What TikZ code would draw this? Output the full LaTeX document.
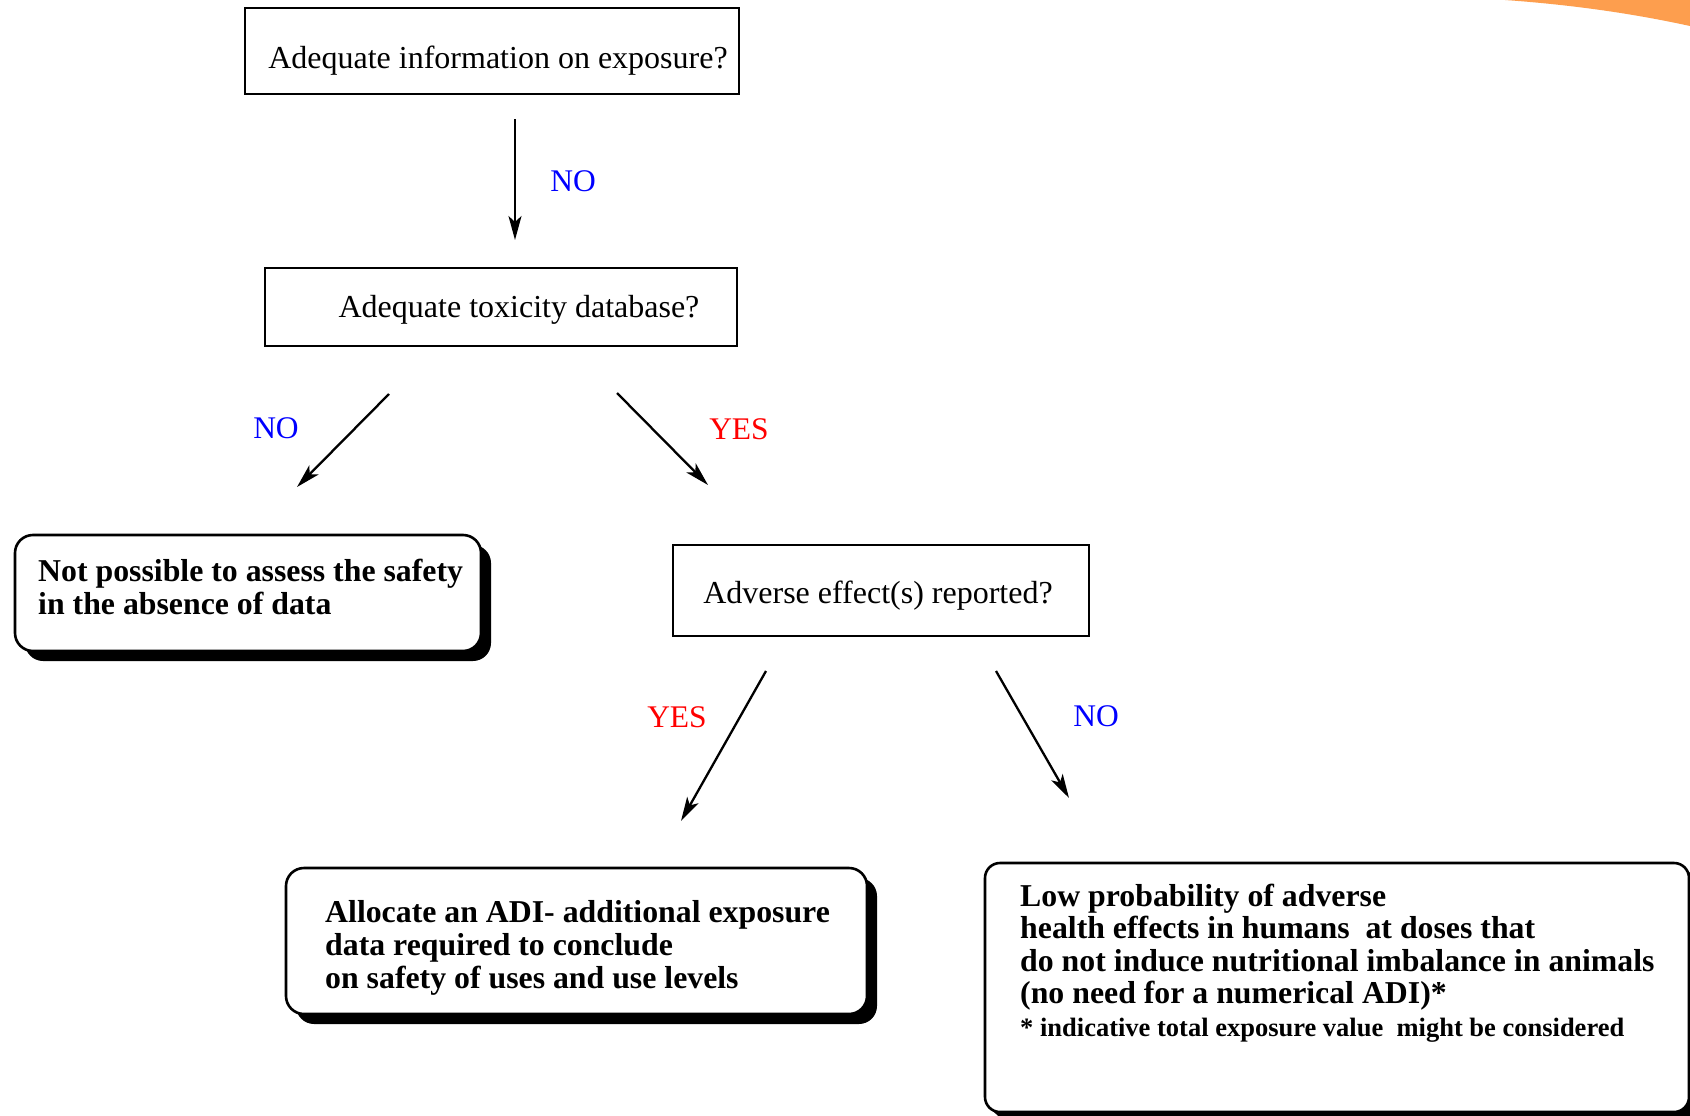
\documentclass[tikz,border=0pt]{standalone}
\usepackage{fontspec}
\setmainfont{Liberation Serif}
\usetikzlibrary{arrows.meta,shadows}
\definecolor{orng}{RGB}{253,158,78}
\begin{document}
\begin{tikzpicture}[x=1pt,y=-1pt,
  qbox/.style={draw, line width=2.2pt, inner sep=0pt},
  qtext/.style={inner sep=0pt, font=\fontsize{32}{34}\selectfont},
  rbox/.style={draw, line width=2.6pt, fill=white, rounded corners=18pt, inner sep=0pt,
     drop shadow={shadow xshift=10pt, shadow yshift=-10pt, fill=black, opacity=1}},
  rtext/.style={inner sep=0pt, align=left, anchor=west, font=\bfseries\fontsize{31.8}{33}\selectfont},
  arr/.style={line width=2.3pt, -{Stealth[length=24pt,width=13pt,inset=6pt]}},
  lblno/.style={inner sep=0pt, text=blue, font=\fontsize{31.5}{33}\selectfont},
  lblyes/.style={inner sep=0pt, text=red, font=\fontsize{31.5}{33}\selectfont}]
\useasboundingbox (0,0) rectangle (1690,1116);
\fill[white] (0,0) rectangle (1690,1116);
% orange corner
\fill[orng] (1505,0) .. controls (1575,5) and (1635,14) .. (1690,26) -- (1690,0) -- cycle;

% question boxes
\node[qbox, minimum width=494pt, minimum height=86pt] (q1) at (492,51) {};
\node[qtext] (q1t) at (498,61) {Adequate information on exposure?};
\node[qbox, minimum width=472pt, minimum height=78pt] (q2) at (501,307) {};
\node[qtext] (q2t) at (519,310) {Adequate toxicity database?};
\node[qbox, minimum width=416pt, minimum height=91pt] (q3) at (881,590.5) {};
\node[qtext] (q3t) at (878,595.5) {Adverse effect(s) reported?};

% result boxes
\node[rbox, minimum width=466pt, minimum height=116pt] (r1) at (248,593) {};
\node[rtext] (r1t) at (38,587) {Not possible to assess the safety\\in the absence of data};
\node[rbox, minimum width=581pt, minimum height=146pt] (r2) at (576.5,941) {};
\node[rtext] (r2t) at (325,948) {Allocate an ADI- additional exposure\\data required to conclude\\on safety of uses and use levels};
\node[rbox, rounded corners=15pt, drop shadow={shadow xshift=5pt, shadow yshift=-5pt, fill=black, opacity=1},
      minimum width=704pt, minimum height=249pt] (r3) at (1337,987.5) {};
\node[rtext, font=\bfseries\fontsize{31.8}{32.5}\selectfont] (r3t) at (1020,963)
  {Low probability of adverse\\health effects in humans\ \ at doses that\\do not induce nutritional imbalance in animals\\(no need for a numerical ADI)*\\{\fontsize{26.5}{27}\selectfont * indicative total exposure value\ \ might be considered}};

% arrow end points
\coordinate (a1s) at (515,119); \coordinate (a1e) at (515,240);
\coordinate (a2s) at (389,394); \coordinate (a2e) at (297,487);
\coordinate (a3s) at (617,393); \coordinate (a3e) at (708,485);
\coordinate (a4s) at (766,671); \coordinate (a4e) at (681,821);
\coordinate (a5s) at (996,671); \coordinate (a5e) at (1069,798);
\draw[arr] (a1s) -- (a1e);
\draw[arr] (a2s) -- (a2e);
\draw[arr] (a3s) -- (a3e);
\draw[arr] (a4s) -- (a4e);
\draw[arr] (a5s) -- (a5e);

% labels
\node[lblno] (l1) at (573,181) {NO};
\node[lblno] (l2) at (276,428) {NO};
\node[lblyes] (l3) at (739,429) {YES};
\node[lblyes] (l4) at (677,717) {YES};
\node[lblno] (l5) at (1096,716) {NO};
\end{tikzpicture}
\end{document}
